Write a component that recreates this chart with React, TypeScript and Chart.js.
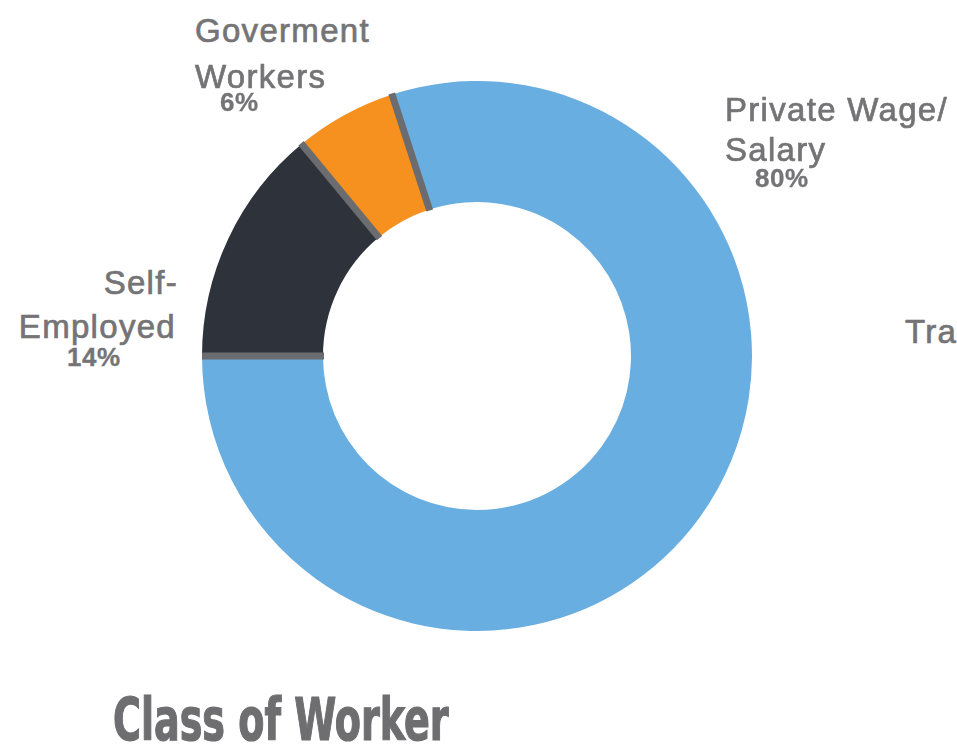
import React, { useEffect, useRef } from "react";
import { Chart, registerables } from "chart.js";

Chart.register(...registerables);

const categories = ["Private Wage/Salary", "Self-Employed", "Goverment Workers"];
const shares = [80, 14, 6];
const colors = ["#69aee1", "#2e323a", "#f6901e"];
const separatorColor = "#6b6c70";

const separatorPlugin = {
  id: "separators",
  afterDatasetsDraw(chart: any) {
    const meta = chart.getDatasetMeta(0);
    const ctx = chart.ctx;
    ctx.save();
    ctx.strokeStyle = separatorColor;
    ctx.lineWidth = 7;
    meta.data.forEach((arc: any) => {
      const { x, y, startAngle, innerRadius, outerRadius } = arc.getProps(
        ["x", "y", "startAngle", "innerRadius", "outerRadius"],
        true
      );
      ctx.beginPath();
      ctx.moveTo(x + Math.cos(startAngle) * (innerRadius - 1), y + Math.sin(startAngle) * (innerRadius - 1));
      ctx.lineTo(x + Math.cos(startAngle) * (outerRadius + 1), y + Math.sin(startAngle) * (outerRadius + 1));
      ctx.stroke();
    });
    ctx.restore();
  },
};

const labelStyle: React.CSSProperties = {
  position: "absolute",
  fontFamily: "'Liberation Sans', Arial, sans-serif",
  fontSize: 33,
  letterSpacing: 1.3,
  color: "#747476",
  WebkitTextStroke: "0.7px #747476",
  lineHeight: 1,
  whiteSpace: "nowrap",
};
const pctStyle: React.CSSProperties = {
  ...labelStyle,
  fontSize: 26,
  letterSpacing: 0.5,
  fontWeight: "bold",
  WebkitTextStroke: "0.3px #747476",
};

export default function App() {
  const ref = useRef<HTMLCanvasElement | null>(null);
  useEffect(() => {
    if (!ref.current) return;
    const chart = new Chart(ref.current, {
      type: "doughnut",
      data: {
        labels: categories,
        datasets: [
          {
            data: shares,
            backgroundColor: colors,
            borderWidth: 0,
          },
        ],
      },
      options: {
        responsive: false,
        animation: false,
        cutout: "56%",
        rotation: -18,
        layout: { padding: 0 },
        plugins: { legend: { display: false }, tooltip: { enabled: false } },
      },
      plugins: [separatorPlugin],
    });
    return () => chart.destroy();
  }, []);

  return (
    <div style={{ position: "absolute", left: 0, top: 0, width: 957, height: 747, background: "#fff", overflow: "hidden" }}>
      <canvas ref={ref} width={550} height={550} style={{ position: "absolute", left: 202, top: 81, width: 550, height: 550 }} />
      <div style={{ ...labelStyle, left: 195, top: 14 }}>Goverment</div>
      <div style={{ ...labelStyle, left: 195, top: 60 }}>Workers</div>
      <div style={{ ...pctStyle, left: 220, top: 89 }}>6%</div>

      <div style={{ ...labelStyle, left: 725, top: 93 }}>Private Wage/</div>
      <div style={{ ...labelStyle, left: 725, top: 133 }}>Salary</div>
      <div style={{ ...pctStyle, left: 755, top: 165 }}>80%</div>

      <div style={{ ...labelStyle, right: 957 - 178, top: 266, textAlign: "right" }}>Self-</div>
      <div style={{ ...labelStyle, right: 957 - 176, top: 310, textAlign: "right" }}>Employed</div>
      <div style={{ ...pctStyle, left: 67, top: 344 }}>14%</div>

      <div style={{ ...labelStyle, left: 905, top: 315 }}>Tra</div>

      <div
        style={{
          position: "absolute",
          left: 113,
          top: 691,
          fontFamily: "'DejaVu Sans', sans-serif",
          fontWeight: "bold",
          fontStretch: "condensed",
          fontSize: 58,
          lineHeight: 1,
          color: "#6e6e70",
          WebkitTextStroke: "1.2px #6e6e70",
          whiteSpace: "nowrap",
          transformOrigin: "left top",
          transform: "scaleX(0.73)",
        }}
      >
        Class of Worker
      </div>
    </div>
  );
}
